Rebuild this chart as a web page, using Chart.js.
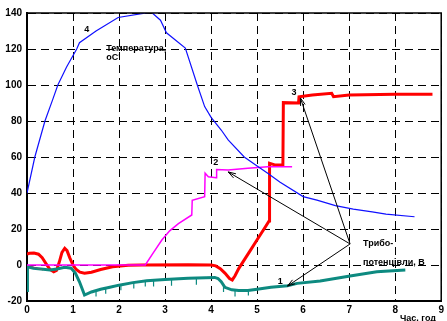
<!DOCTYPE html>
<html>
<head>
<meta charset="utf-8">
<script src="https://cdn.jsdelivr.net/npm/chart.js@4.4.0/dist/chart.umd.min.js"></script>
<style>
  body { margin: 0; background: #fff; }
  #wrap { width: 447px; height: 321px; }
</style>
</head>
<body>
<div id="wrap"><canvas id="chart" width="447" height="321"></canvas></div>
<script>
// x = time, hours; y = temperature (oC) / potentials
const xTicks = [0, 1, 2, 3, 4, 5, 6, 7, 8, 9];
const yTicks = [-20, 0, 20, 40, 60, 80, 100, 120, 140];

// 1 - teal potential
const tealX = [0, 0.005, 0.015, 0.14, 0.3, 0.5, 0.65, 0.82, 0.96, 1.05, 1.14, 1.25, 1.4, 1.6, 1.8, 2.0, 2.3,
  2.6, 3.0, 3.5, 4.08, 4.15, 4.22, 4.3, 4.45, 4.6, 4.8, 5.0, 5.3, 5.66, 5.87, 6.37, 7.02, 7.6, 8.22];
const tealY = [0, -15, -1, -1.8, -2.2, -2.8, -2.2, -1.3, -1.8, -4.5, -9.3, -16.7, -15, -13.5, -12.4, -11.2, -9.8,
  -8.7, -8.0, -7.4, -6.9, -7.5, -9.3, -12.4, -13.8, -14.2, -14.2, -13.5, -12.4, -11.5, -10.2, -8.9, -6.1, -3.7, -2.8];
// small downward spikes on curve 1: position, top, bottom
const spikeX = [1.5, 1.71, 2.04, 2.32, 2.57, 2.75, 3.14, 3.68, 4.27, 4.52, 4.81];
const spikeTop = [-14, -12.9, -11, -9.9, -8.8, -8.4, -7.8, -7.3, -10.5, -14.2, -14.2];
const spikeBottom = [-17.5, -16, -14, -13, -12, -12, -11.5, -11, -15, -17.5, -17];
const grayX = [0, 0.35];
const grayY = [0, -2.8];

// 2 - magenta potential
const magX = [0, 2.57, 2.75, 2.93, 3.1, 3.29, 3.58, 3.59, 3.86, 3.87, 3.94, 4.11, 4.12, 4.37, 4.8, 5.23, 5.76];
const magY = [0, 0, 7, 13.9, 19, 23, 27.8, 36, 38, 51, 49, 48.5, 53, 52.8, 53.8, 54.6, 54.6];

// 3 - red potential
const redX = [0, 0.05, 0.15, 0.25, 0.33, 0.42, 0.5, 0.58, 0.64, 0.7, 0.76, 0.82, 0.87, 0.93, 1.0, 1.07, 1.15,
  1.25, 1.4, 1.6, 1.86, 2.2, 2.5, 3.5, 4.0, 4.1, 4.2, 4.3, 4.4, 4.46, 4.52, 4.6, 4.7, 4.85, 5.0, 5.15, 5.26,
  5.27, 5.4, 5.56, 5.57, 5.9, 5.91, 6.2, 6.62, 6.66, 7, 8, 8.81];
const redY = [6, 6.5, 6.6, 6, 4, 0.5, -2.5, -3.8, -3, 1.5, 7, 9.3, 8, 4, 0, -2.5, -4,
  -4.6, -4, -2.5, -1, -0.2, 0, 0.2, 0, -0.5, -2, -4.5, -7.5, -8.3, -6, -2, 2, 8, 14, 20, 24.5,
  56.5, 55.5, 55.5, 90.2, 90, 93.5, 94.5, 95.4, 93.5, 94.5, 94.8, 94.8];

// 4 - temperature
const tempX = [0, 0.17, 0.39, 0.56, 0.67, 0.86, 1.08, 1.14, 1.5, 1.98, 2.7, 2.9, 3.03, 3.44, 3.7, 3.86, 4.0,
  4.22, 4.37, 4.72, 5.0, 5.23, 5.5, 6.0, 6.3, 6.7, 7.09, 7.5, 7.8, 8.42];
const tempY = [40, 60, 80, 92, 100, 110, 120, 123.5, 130, 137.5, 140.5, 136, 129, 120.5, 100, 88, 82,
  75, 69.5, 60, 55, 51, 46, 38, 36, 33, 31, 29.5, 28.3, 26.8];

// labels and arrows (data coords)
const curveLabels = [
  { text: '4', x: 1.3, y: 131 },
  { text: '2', x: 4.1, y: 57 },
  { text: '3', x: 5.8, y: 96 },
  { text: '1', x: 5.5, y: -9 }
];
const noteLines = [
  { text: 'Температура,', x: 1.72, y: 120 },
  { text: 'оС\'', x: 1.72, y: 115 },
  { text: 'Трибо-', x: 7.3, y: 12 },
  { text: 'потенцівли, В', x: 7.3, y: 1.5 }
];
const arrowFrom = { x: 7.02, y: 11.7 };
const arrowTo = [
  { x: 5.94, y: 92.8 },
  { x: 4.37, y: 51.7 },
  { x: 5.66, y: -11.7 }
];

const pts = (xs, ys) => xs.map((x, i) => ({ x: x, y: ys[i] }));
const spikePts = [];
spikeX.forEach((x, i) => {
  spikePts.push({ x: x, y: spikeTop[i] }, { x: x, y: spikeBottom[i] }, { x: x, y: null });
});

const overlay = {
  id: 'overlay',
  afterDatasetsDraw(chart) {
    const ctx = chart.ctx;
    const xs = chart.scales.x, ys = chart.scales.y;
    const a = chart.chartArea;
    ctx.save();
    // frame
    ctx.strokeStyle = '#000';
    ctx.lineWidth = 1.5;
    ctx.setLineDash([]);
    ctx.beginPath();
    ctx.moveTo(a.left, a.top);
    ctx.lineTo(a.right, a.top);
    ctx.lineTo(a.right, a.bottom);
    ctx.stroke();

    // arrows
    ctx.lineWidth = 1;
    const fx = xs.getPixelForValue(arrowFrom.x), fy = ys.getPixelForValue(arrowFrom.y);
    arrowTo.forEach(t => {
      const tx = xs.getPixelForValue(t.x), ty = ys.getPixelForValue(t.y);
      ctx.beginPath();
      ctx.moveTo(fx, fy);
      ctx.lineTo(tx, ty);
      const ang = Math.atan2(ty - fy, tx - fx);
      const L = 8;
      ctx.moveTo(tx - L * Math.cos(ang - 0.3), ty - L * Math.sin(ang - 0.3));
      ctx.lineTo(tx, ty);
      ctx.lineTo(tx - L * Math.cos(ang + 0.3), ty - L * Math.sin(ang + 0.3));
      ctx.stroke();
    });

    // text
    ctx.fillStyle = '#000';
    ctx.font = 'bold 9px "Liberation Sans", Arial, sans-serif';
    ctx.textBaseline = 'middle';
    ctx.textAlign = 'center';
    curveLabels.forEach(l => ctx.fillText(l.text, xs.getPixelForValue(l.x), ys.getPixelForValue(l.y)));
    ctx.textAlign = 'left';
    noteLines.forEach(l => ctx.fillText(l.text, xs.getPixelForValue(l.x), ys.getPixelForValue(l.y)));
    ctx.textBaseline = 'top';
    ctx.fillText('Час, год', 400, 314);
    ctx.restore();
  }
};

const tickFont = { family: '"Liberation Sans", Arial, sans-serif', size: 10, weight: 'bold' };

new Chart(document.getElementById('chart').getContext('2d'), {
  type: 'scatter',
  data: {
    datasets: [
      { label: '4', data: pts(tempX, tempY), borderColor: '#1010ff', borderWidth: 1.2 },
      { label: '2', data: pts(magX, magY), borderColor: '#ff00ff', borderWidth: 1.5 },
      { label: 'gray', data: pts(grayX, grayY), borderColor: '#507070', borderWidth: 1 },
      { label: 'spikes', data: spikePts, borderColor: '#0d8a80', borderWidth: 1.2, spanGaps: false },
      { label: '1', data: pts(tealX, tealY), borderColor: '#0d8a80', borderWidth: 3 },
      { label: '3', data: pts(redX, redY), borderColor: '#ff0000', borderWidth: 3 }
    ].map(d => Object.assign(d, { showLine: true, pointRadius: 0, tension: 0, fill: false }))
  },
  options: {
    responsive: false,
    animation: false,
    events: [],
    layout: { padding: { top: 13, right: 2, left: 0, bottom: 0 } },
    plugins: { legend: { display: false }, tooltip: { enabled: false } },
    scales: {
      x: {
        type: 'linear', min: 0, max: 9,
        afterBuildTicks: s => { s.ticks = xTicks.map(v => ({ value: v })); },
        afterFit: s => { s.height = 20; },
        grid: { color: '#000', lineWidth: 1, drawTicks: false },
        border: { display: true, color: '#000', width: 2, dash: [8, 5] },
        ticks: { color: '#000', font: tickFont, padding: 3, maxRotation: 0 }
      },
      y: {
        type: 'linear', min: -20, max: 140,
        afterBuildTicks: s => { s.ticks = yTicks.map(v => ({ value: v })); },
        afterFit: s => { s.width = 27; },
        grid: { color: '#000', lineWidth: 1, drawTicks: false },
        border: { display: true, color: '#000', width: 2, dash: [8, 5] },
        ticks: { color: '#000', font: tickFont, padding: 5 }
      }
    }
  },
  plugins: [overlay]
});
</script>
</body>
</html>
